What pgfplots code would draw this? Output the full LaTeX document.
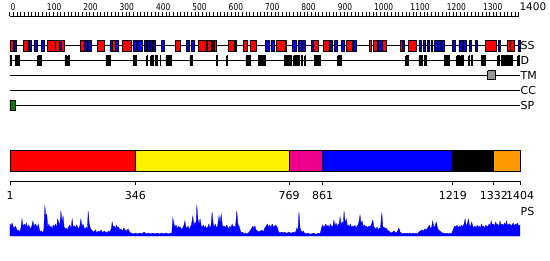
\documentclass[border=0pt]{standalone}
\usepackage{pgfplots}
\pgfplotsset{compat=1.18}
\usepackage{graphicx}
\usepackage{fontspec}
\setmainfont{DejaVu Sans}
\definecolor{tmgray}{RGB}{150,150,150}
\definecolor{spgreen}{RGB}{0,130,0}
\definecolor{dorange}{RGB}{255,153,0}
\newcommand\boxrow[4]{%
  \foreach \a/\b in {#4}{%
    \edef\temp{\noexpand\addplot[#1] coordinates {(\a,#2) (\b,#2) (\b,#3) (\a,#3) (\a,#2)};}%
    \temp
  }%
}
\newcommand\lab{\fontsize{11}{11}\selectfont}
\newcommand\rl[1]{\scalebox{1}[1.25]{#1}}
\begin{document}
\begin{tikzpicture}
% ---------------- main tracks ----------------
\begin{axis}[at={(0pt,0pt)}, anchor=south west, scale only axis, width=550pt, height=260pt,
  xmin=-26.5, xmax=1486.6, ymin=0, ymax=260, y dir=reverse, hide axis, clip=false]
\addplot[draw=none] coordinates {(-26.5,0) (1486.6,260)};
% track lines
\addplot[black, line width=0.9pt] coordinates {(1,45.5) (1404,45.5)};
\addplot[black, line width=0.9pt] coordinates {(1,60.5) (1404,60.5)};
\addplot[black, line width=0.9pt] coordinates {(1,75) (1404,75)};
\addplot[black, line width=0.9pt] coordinates {(1,90) (1404,90)};
\addplot[black, line width=0.9pt] coordinates {(1,105) (1404,105)};
% SS helices (red)
\boxrow{fill=red, draw=black, line width=0.7pt}{40}{51}{1/10, 38/51, 104/125, 125/136, 141/150, 194/205, 241/260, 283/291, 311/336, 455/471, 519/540, 544/554, 557/560, 562/568, 603/617, 643/654, 663/678, 735/758, 836/848, 863/879, 927/943, 990/994, 1001/1012, 1026/1036, 1075/1081, 1097/1120, 1308/1340, 1370/1378, 1378/1388}
% SS strands (blue)
\boxrow{fill=blue, draw=black, line width=0.7pt}{40}{51}{13/19, 53/59, 67/76, 88/95, 137/141, 206/214, 216/224, 276/283, 291/298, 339/348, 350/366, 370/375, 379/383, 386/392, 395/400, 418/425, 487/494, 501/507, 540/544, 554/557, 620/625, 703/714, 719/728, 758/762, 778/790, 794/802, 805/813, 831/836, 882/888, 893/901, 913/920, 946/953, 1015/1024, 1081/1086, 1126/1132, 1138/1143, 1150/1156, 1159/1164, 1169/1176, 1178/1186, 1189/1197, 1218/1225, 1236/1246, 1247/1257, 1265/1271, 1281/1287, 1345/1351, 1399/1404}
% D (black)
\boxrow{fill=black, draw=black, line width=0.7pt}{55.5}{65.5}{1/4, 15/27, 77/88, 152/155, 160/163, 265/276, 340/348, 377/380, 388/395, 400/406, 414/416, 430/446, 496/504, 568/572, 597/600, 650/656, 658/663, 684/703, 756/775, 781/791, 792/796, 802/804, 812/814, 838/854, 902/912, 1090/1098, 1126/1135, 1141/1146, 1196/1211, 1230/1237, 1241/1248, 1263/1266, 1270/1273, 1298/1310, 1343/1346, 1352/1384, 1398/1402}
% TM
\boxrow{fill=tmgray, draw=black, line width=0.7pt}{70.7}{79.3}{1315/1337}
% SP
\boxrow{fill=spgreen, draw=black, line width=0.7pt}{100}{110}{1/17}
% domains
\boxrow{fill=red, draw=black, line width=0.7pt}{150}{171}{1/346}
\boxrow{fill=yellow, draw=black, line width=0.7pt}{150}{171}{346/769}
\boxrow{fill=magenta, draw=black, line width=0.7pt}{150}{171}{769/861}
\boxrow{fill=blue, draw=black, line width=0.7pt}{150}{171}{861/1219}
\boxrow{fill=black, draw=black, line width=0.7pt}{150}{171}{1219/1332}
\boxrow{fill=dorange, draw=black, line width=0.7pt}{150}{171}{1332/1404}
% labels
\node[anchor=west, inner sep=0.5pt, font=\lab] at (axis cs:1404,45.5) {SS};
\node[anchor=west, inner sep=0.5pt, font=\lab] at (axis cs:1404,60.5) {D};
\node[anchor=west, inner sep=0.5pt, font=\lab] at (axis cs:1404,75) {TM};
\node[anchor=west, inner sep=0.5pt, font=\lab] at (axis cs:1404,90) {CC};
\node[anchor=west, inner sep=0.5pt, font=\lab] at (axis cs:1404,105) {SP};
\node[anchor=west, inner sep=0.5pt, font=\lab] at (axis cs:1404,211) {PS};
\end{axis}
% ---------------- ruler ----------------
\begin{axis}[at={(9.64pt,244pt)}, anchor=south west, scale only axis, width=508.9pt, height=5pt,
  xmin=0, xmax=1400, ymin=0, ymax=1, enlargelimits=false,
  axis x line=bottom, axis y line=none, x axis line style={-, line width=0.8pt},
  xtick={0,100,...,1400},
  xticklabels={\rl{0},\rl{100},\rl{200},\rl{300},\rl{400},\rl{500},\rl{600},\rl{700},\rl{800},\rl{900},\rl{1000},\rl{1100},\rl{1200},\rl{1300},{\fontsize{10.5}{10.5}\selectfont 1400}},
  minor x tick num=9, tick align=inside, major tick length=3.5pt, minor tick length=3.5pt,
  tick style={black, line width=0.6pt},
  xticklabel style={anchor=base west, inner sep=0pt, yshift=5.5pt, xshift=0.8pt, font=\fontsize{7.5}{7.5}\selectfont}]
\end{axis}
% ---------------- domain boundaries ----------------
\begin{axis}[at={(10pt,79pt)}, anchor=south west, scale only axis, width=510pt, height=5pt,
  xmin=1, xmax=1404, ymin=0, ymax=1, enlargelimits=false,
  axis x line=bottom, axis y line=none, x axis line style={-, line width=0.8pt},
  xtick={1,346,769,861,1219,1332,1404},
  xticklabels={1,346,769,861,1219,1332,1404},
  tick align=outside, major tick length=4pt, tick style={black, line width=0.8pt},
  xticklabel style={anchor=north, inner sep=0pt, yshift=-6.5pt, font=\lab}]
\end{axis}
% ---------------- PS profile ----------------
\begin{axis}[at={(0pt,24pt)}, anchor=south west, scale only axis, width=550pt, height=40pt,
  xmin=-26.5, xmax=1486.6, ymin=0, ymax=40, hide axis, clip=false]
\addplot[fill=blue, draw=blue, line width=0.3pt] coordinates {
(1,12) (4,10) (7,13) (10,9) (13,8) (16,10) (19,7) (22,5) (25,6) (28,4) (31,8) (34,17)
(37,9) (40,12) (43,10) (46,13) (49,8) (52,11) (55,9) (58,7)
(61,10) (64,15) (67,9) (70,12) (73,11) (76,8) (79,12)
(82,6) (85,4) (88,5) (91,3) (94,6)
(97,31) (99,20) (102,22) (105,9) (108,12) (111,8) (114,10) (117,7) (120,11) (123,9)
(126,12) (129,8) (132,17) (135,14) (138,10) (141,25) (144,14) (147,20) (150,9) (153,7) (156,8) (159,6) (162,9)
(166,11) (169,7) (172,17) (175,9) (178,10) (181,8) (184,11) (187,9) (190,7)
(193,10) (196,17) (199,9) (202,12) (205,8) (208,7) (211,9) (214,6)
(216,25) (219,12) (222,8) (225,6) (228,5)
(232,4) (236,6) (240,3) (244,5) (248,4) (252,6) (256,3) (260,5) (264,4) (268,3) (272,5) (276,4)
(280,8) (282,14) (285,9) (288,10) (291,7) (294,11) (297,8) (300,9) (303,6)
(306,7) (310,5) (314,8) (318,6) (322,5) (326,7) (330,4)
(334,3) (340,2) (346,3) (352,2) (358,3) (364,2) (370,4) (376,2) (382,3) (388,2) (394,3) (400,2) (406,3) (412,2) (418,3) (424,2) (430,3) (436,2) (442,3) (446,2)
(449,18) (452,12) (455,9) (458,11) (461,7) (464,10) (467,8) (470,9) (473,6) (476,8) (479,10)
(482,15) (485,9) (488,8) (491,10) (494,6) (497,9)
(500,11) (504,20) (507,10) (510,14)
(513,12) (515,31) (518,17) (521,12) (524,17) (527,10) (530,9) (533,11) (536,8) (539,10) (542,7) (545,9) (548,12) (551,8)
(554,10) (557,24) (560,12) (563,9) (566,12) (569,8)
(572,10) (576,20) (579,13) (582,22) (585,11) (588,9) (591,10) (594,8) (597,11) (600,9) (603,7) (606,10) (609,8) (612,12) (615,9) (618,10) (621,8)
(625,25) (628,12) (631,10) (634,6) (637,3) (641,4) (645,2) (649,3) (653,2) (657,3)
(661,5) (665,7) (669,10) (672,8) (675,10) (678,6) (682,5) (686,4) (690,5) (694,6) (698,4)
(702,8) (706,10) (709,12) (712,9) (716,11) (719,8) (722,12) (725,10) (728,9) (731,11)
(734,10) (737,8)
(740,4) (744,3) (748,4) (752,3) (756,4) (760,3) (764,3) (768,4) (772,3) (776,3) (780,4) (784,3) (788,5)
(790,8) (793,5) (796,24) (799,8) (802,5) (805,4) (808,5) (811,3)
(815,2) (820,3) (825,2) (830,2) (835,3) (840,2) (845,2) (850,3) (854,2)
(858,8) (861,11) (864,9) (867,10) (870,12) (873,9) (876,11) (879,8) (882,12) (885,10)
(889,9) (892,16) (895,10) (898,13) (901,9) (904,12)
(906,10) (909,19) (912,11) (915,14) (918,12) (920,25) (923,13) (926,17) (929,10) (932,11) (935,9) (938,12) (941,8) (944,10) (947,9) (950,11) (953,8)
(956,10) (960,12) (964,21) (967,12) (970,15) (973,9) (976,11) (979,9) (982,10) (985,8)
(988,10) (991,9) (995,11) (999,16) (1002,9) (1005,8) (1008,7) (1011,9) (1014,6) (1017,8) (1020,7)
(1024,23) (1027,8) (1030,9) (1033,7) (1036,8) (1039,6)
(1043,5) (1046,4) (1050,3) (1054,4) (1058,5) (1062,3) (1066,4)
(1071,8) (1074,4) (1078,3) (1082,2) (1086,3) (1090,2) (1094,3) (1098,2) (1102,3) (1106,2) (1110,3) (1114,2) (1118,3) (1122,2)
(1126,4) (1130,5) (1134,6) (1138,5) (1142,7) (1146,6) (1150,8)
(1155,11) (1158,7) (1161,9) (1164,15) (1167,8) (1170,10) (1174,14) (1177,8) (1180,6) (1183,5)
(1187,4) (1191,3) (1195,3) (1199,2) (1203,3) (1207,2) (1211,3) (1215,2)
(1219,5) (1222,8) (1225,10) (1228,9) (1231,11) (1234,8) (1237,10) (1240,9) (1243,11)
(1246,9) (1250,12) (1253,17) (1256,10) (1259,12) (1262,17) (1265,11) (1268,9) (1271,14) (1274,10) (1277,8)
(1280,10) (1283,8) (1286,11) (1289,9) (1292,10) (1295,8) (1298,12) (1301,9) (1304,10) (1307,8) (1310,11) (1313,9) (1316,10)
(1319,12) (1322,10) (1325,15) (1328,11) (1331,12) (1334,10) (1337,14) (1340,11) (1343,12) (1346,9) (1349,15) (1352,11) (1355,12) (1358,10) (1361,13) (1364,11) (1367,15) (1370,10) (1373,12)
(1376,12) (1379,10) (1382,11) (1385,13) (1388,10) (1391,12) (1394,11) (1397,13) (1400,10) (1404,11)
} \closedcycle;
\end{axis}
\end{tikzpicture}
\end{document}
